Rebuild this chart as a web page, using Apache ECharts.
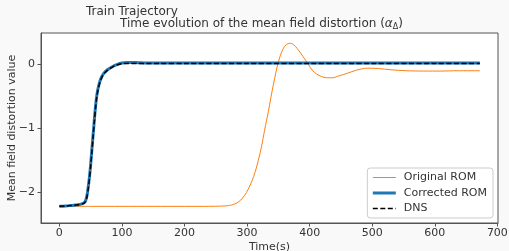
<!DOCTYPE html>
<html>
<head>
<meta charset="utf-8">
<script src="https://cdn.jsdelivr.net/npm/echarts@6/dist/echarts.min.js"></script>
<style>
html,body{margin:0;padding:0;background:#f9f9f9;}
#chart{width:509px;height:251px;}
</style>
</head>
<body>
<div id="chart"></div>
<script>
// ---- data ----
var xTicks = [0, 100, 200, 300, 400, 500, 600, 700];
var yTicks = [-2, -1, 0];

var origTime = [0, 50, 100, 150, 200, 230, 250, 265, 272, 278, 284, 290, 296, 302, 308, 313, 318, 323, 328, 334, 338, 342, 346, 350, 354, 358, 363, 369, 374, 380, 386, 393, 398, 404, 411, 419, 427, 436, 447, 460, 475, 492, 510, 530, 555, 582, 610, 636, 672];
var origValues = [-2.22, -2.22, -2.22, -2.22, -2.22, -2.22, -2.218, -2.213, -2.205, -2.19, -2.165, -2.12, -2.05, -1.95, -1.82, -1.68, -1.50, -1.29, -1.03, -0.74, -0.52, -0.32, -0.13, 0.04, 0.16, 0.25, 0.31, 0.33, 0.31, 0.25, 0.17, 0.07, 0.0, -0.09, -0.15, -0.19, -0.21, -0.21, -0.18, -0.14, -0.09, -0.06, -0.065, -0.085, -0.10, -0.105, -0.105, -0.10, -0.10];

var fastTime = [0, 10, 20, 30, 36, 40, 42, 44, 46, 48, 50, 52, 54, 56, 58, 60, 62, 65, 68, 71, 75, 80, 86, 92, 100, 108, 116, 126, 140, 160, 200, 300, 400, 500, 600, 672];
var correctedValues = [-2.22, -2.215, -2.205, -2.195, -2.18, -2.16, -2.13, -2.06, -1.93, -1.77, -1.57, -1.33, -1.10, -0.86, -0.64, -0.48, -0.37, -0.26, -0.19, -0.14, -0.10, -0.065, -0.03, -0.005, 0.02, 0.03, 0.03, 0.025, 0.02, 0.02, 0.02, 0.02, 0.02, 0.02, 0.02, 0.02];
var dnsValues = [-2.22, -2.215, -2.205, -2.195, -2.185, -2.165, -2.14, -2.08, -1.96, -1.80, -1.60, -1.37, -1.13, -0.89, -0.67, -0.50, -0.39, -0.28, -0.20, -0.15, -0.11, -0.07, -0.035, -0.01, 0.01, 0.015, 0.015, 0.015, 0.015, 0.015, 0.015, 0.015, 0.015, 0.015, 0.015, 0.015];

var seriesNames = ['Original ROM', 'Corrected ROM', 'DNS'];

function pairs(xs, ys) { return xs.map(function (x, i) { return [x, ys[i]]; }); }

var FONT = 'DejaVu Sans';
var TXT = '#333';
var chart = echarts.init(document.getElementById('chart'), null, {renderer: 'canvas'});
chart.setOption({
  backgroundColor: '#f9f9f9',
  animation: false,
  title: [
    {text: 'Train Trajectory', left: 86, top: 5, padding: 0,
     textStyle: {fontFamily: FONT, fontSize: 12, fontWeight: 'normal', color: TXT, lineHeight: 14}},
    {text: 'Time evolution of the mean field distortion ({a|α}{s|Δ})', left: 120, top: 17, padding: 0,
     textStyle: {fontFamily: FONT, fontSize: 12, fontWeight: 'normal', color: TXT, lineHeight: 14,
       rich: {
         a: {fontFamily: FONT, fontStyle: 'italic', fontSize: 12, color: TXT},
         s: {fontFamily: FONT, fontSize: 8, color: TXT, padding: [5, 0, 0, 0]}
       }}}
  ],
  grid: {left: 41, top: 33, right: 11, bottom: 28, show: true, backgroundColor: '#fff',
         borderColor: '#555', borderWidth: 1, outerBoundsMode: 'none', containLabel: false},
  legend: {
    orient: 'vertical', right: 16, bottom: 33,
    data: [
      {name: seriesNames[0], lineStyle: {width: 1}},
      {name: seriesNames[1], lineStyle: {width: 3}},
      {name: seriesNames[2], lineStyle: {width: 1.5}}
    ],
    itemWidth: 23, itemHeight: 12, itemGap: 4.5,
    padding: [4, 6, 4, 4],
    borderColor: '#ccc', borderWidth: 1, borderRadius: 3,
    backgroundColor: 'rgba(255,255,255,0.8)',
    itemStyle: {opacity: 0},
    textStyle: {fontFamily: FONT, fontSize: 11, color: TXT, padding: [0, 0, 0, 3]}
  },
  xAxis: {
    type: 'value', min: -29.3, max: 701,
    name: 'Time(s)', nameLocation: 'middle', nameGap: 19, nameMoveOverlap: false,
    nameTextStyle: {fontFamily: FONT, fontSize: 11, color: TXT},
    splitLine: {show: false},
    axisLine: {show: true, onZero: false, lineStyle: {color: '#555'}},
    axisTick: {show: true, length: 3.5, customValues: xTicks, lineStyle: {color: '#555'}},
    axisLabel: {customValues: xTicks, fontFamily: FONT, fontSize: 11, color: TXT, margin: 5}
  },
  yAxis: {
    type: 'value', min: -2.48, max: 0.49,
    name: 'Mean field distortion value', nameLocation: 'middle', nameGap: 23, nameMoveOverlap: false,
    nameTextStyle: {fontFamily: FONT, fontSize: 11, color: TXT},
    splitLine: {show: false},
    axisLine: {show: true, onZero: false, lineStyle: {color: '#555'}},
    axisTick: {show: true, length: 3.5, customValues: yTicks, lineStyle: {color: '#555'}},
    axisLabel: {customValues: yTicks, fontFamily: FONT, fontSize: 11, color: TXT, margin: 6,
      formatter: function (v) { return String(v).replace('-', '\u2212'); }}
  },
  series: [
    {name: seriesNames[0], type: 'line', data: pairs(origTime, origValues), symbol: 'none', smooth: 0.3,
     lineStyle: {color: '#ff7f0e', width: 1}, itemStyle: {color: '#ff7f0e'}, z: 2},
    {name: seriesNames[1], type: 'line', data: pairs(fastTime, correctedValues), symbol: 'none', smooth: 0.3,
     lineStyle: {color: '#1f77b4', width: 3}, itemStyle: {color: '#1f77b4'}, z: 3},
    {name: seriesNames[2], type: 'line', data: pairs(fastTime, dnsValues), symbol: 'none', smooth: 0.3,
     lineStyle: {color: '#000', width: 1.5, type: [5, 2.5]}, itemStyle: {color: '#000'}, z: 4}
  ]
});
</script>
</body>
</html>
